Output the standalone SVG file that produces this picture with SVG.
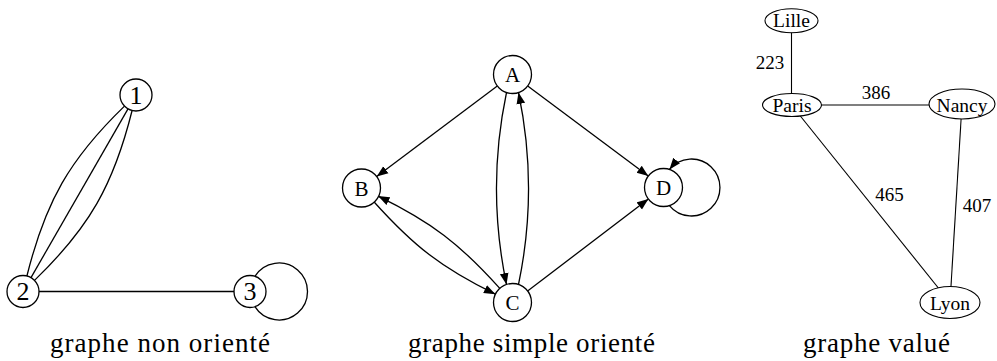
<svg xmlns="http://www.w3.org/2000/svg" width="997" height="361" viewBox="0 0 997 361">
<style>
.bg{fill:#ffffff}
.node{fill:#ffffff;stroke:#000;stroke-width:1.3}
.vnode{fill:#ffffff;stroke:#000;stroke-width:1.1}
.edge{fill:none;stroke:#000;stroke-width:1.3}
.vedge{fill:none;stroke:#000;stroke-width:1.1}
.arr{fill:none;stroke:#000;stroke-width:1.3;marker-end:url(#tip)}
.t{fill:#000;text-anchor:middle;font-family:"Liberation Serif","Times New Roman",serif}
.dig{font-size:26px}
.let{font-size:21px}
.city{font-size:19.5px}
.w{font-size:19px}
.cap{font-size:27px}
</style>
<defs>
<marker id="tip" markerUnits="userSpaceOnUse" markerWidth="12" markerHeight="10" viewBox="0 0 11 8" refX="10.5" refY="4" orient="auto">
<path d="M0,0 L10.5,4 L0,8 Z" fill="#000"/>
</marker>
</defs>
<rect class="bg" x="0" y="0" width="997" height="361"/>

<g id="connectors">
<path class="edge" d="M26.9,276 C45.4,201.8 69.5,159.2 124.5,106.1"/>
<path class="edge" d="M31,277.6 L128,108.9"/>
<path class="edge" d="M34.5,280.4 C89.5,227.3 113.6,184.7 132.1,110.5"/>
<path class="edge" d="M39,291.5 L234,291.5"/>
<path class="edge" d="M254.9,276.3 A28.5,28.5 0 1 1 254.9,306.7"/>
<path class="arr" d="M497.3,85.9 L376.7,176.6"/>
<path class="arr" d="M527.7,85.9 L648.3,176.1"/>
<path class="arr" d="M527.6,291 L648.4,199"/>
<path class="arr" d="M506.5,92.5 C493,157 493,220 506.5,284.5"/>
<path class="arr" d="M518.5,284.5 C532,220 532,157 518.5,92.5"/>
<path class="arr" d="M373.9,201.7 C413.8,246.1 441.7,268 495.4,294.2"/>
<path class="arr" d="M499.8,288.4 C459.9,244 431.8,222.3 378.1,196.1"/>
<path class="arr" d="M669.4,205.55 A28.5,28.5 0 1 0 669.4,169.45"/>
<path class="vedge" d="M791.5,20.7 L791.5,105"/>
<path class="vedge" d="M791.5,105 L962,105"/>
<path class="vedge" d="M791.5,105 L950,302.5"/>
<path class="vedge" d="M962,104 L950,302.5"/>
<text class="t w" x="770" y="68.5">223</text>
<text class="t w" x="876" y="98.5">386</text>
<text class="t w" x="889.5" y="201">465</text>
<text class="t w" x="977" y="211.5">407</text>
</g>

<g id="n1"><circle class="node" cx="136" cy="95" r="16"/><text class="t dig" x="136" y="103.5">1</text></g>
<g id="n2"><circle class="node" cx="23" cy="291.5" r="16"/><text class="t dig" x="23" y="300">2</text></g>
<g id="n3"><circle class="node" cx="250" cy="291.5" r="16"/><text class="t dig" x="250" y="300">3</text></g>

<g id="nA"><circle class="node" cx="512.5" cy="74.5" r="19"/><text class="t let" x="512.5" y="82">A</text></g>
<g id="nB"><circle class="node" cx="361.5" cy="188" r="19"/><text class="t let" x="361.5" y="195.5">B</text></g>
<g id="nC"><circle class="node" cx="512.5" cy="302.5" r="19"/><text class="t let" x="512.5" y="310">C</text></g>
<g id="nD"><circle class="node" cx="663.5" cy="187.5" r="19"/><text class="t let" x="663.5" y="195">D</text></g>

<g id="lille"><ellipse class="vnode" cx="791.5" cy="20.7" rx="26.5" ry="12"/><text class="t city" x="791.5" y="27">Lille</text></g>
<g id="paris"><ellipse class="vnode" cx="792" cy="105" rx="29.5" ry="11.5"/><text class="t city" x="792" y="112">Paris</text></g>
<g id="nancy"><ellipse class="vnode" cx="962" cy="104" rx="33" ry="15"/><text class="t city" x="962" y="112">Nancy</text></g>
<g id="lyon"><ellipse class="vnode" cx="950" cy="302.5" rx="30" ry="16"/><text class="t city" x="950" y="310">Lyon</text></g>

<g id="captions">
<text class="t cap" x="160" y="351.5" textLength="220" lengthAdjust="spacing">graphe non orienté</text>
<text class="t cap" x="531.5" y="351.5" textLength="247" lengthAdjust="spacing">graphe simple orienté</text>
<text class="t cap" x="876.5" y="351.5" textLength="147" lengthAdjust="spacing">graphe valué</text>
</g>
</svg>
